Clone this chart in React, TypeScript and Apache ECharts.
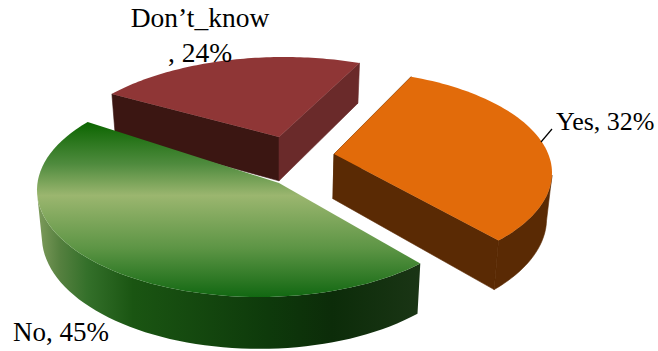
import React, { useEffect, useRef } from "react";
import * as echarts from "echarts";

// Survey answers, in percent
const categories = ["Don’t_know", "Yes", "No"];
const shares = [24, 32, 45];

type Pt = [number, number];

// Projected outline of each slice: where its tip sits, the ellipse its rim follows,
// where the rim begins and how many degrees of rim one percent takes up.
const sliceLooks = [
  {
    tip: [279, 137] as Pt,
    ellipse: [284, 162, 226, 105],
    rimStart: 220.4,
    rimPerShare: 2.88,
    top: "#8f3636",
    startWall: "#3b1612",
    endWall: "#6a2a2a",
    rimWall: "none",
    label: { x: 200, y: 35, align: "center", lineHeight: 35, size: 27.5 },
  },
  {
    tip: [334, 154] as Pt,
    ellipse: [334, 173, 218, 103],
    rimStart: 290.7,
    rimPerShare: 3.447,
    top: "#e26b0a",
    startWall: "#5a2a04",
    endWall: "#5a2a04",
    rimWall: "#5a2a04",
    label: { x: 556, y: 121, align: "left", lineHeight: 30, size: 26 },
  },
  {
    tip: [279, 183] as Pt,
    ellipse: [259, 190, 222, 107],
    rimStart: 43.4,
    rimPerShare: 3.913,
    top: {
      type: "linear", x: 0, y: 0, x2: 0, y2: 1,
      colorStops: [
        { offset: 0, color: "#0b6500" },
        { offset: 0.24, color: "#4f8b3e" },
        { offset: 0.42, color: "#9bb66f" },
        { offset: 0.72, color: "#5d9545" },
        { offset: 1, color: "#126812" },
      ],
    },
    startWall: "none",
    endWall: "none",
    rimWall: {
      type: "linear", x: 0, y: 0, x2: 1, y2: 0,
      colorStops: [
        { offset: 0, color: "#7f9c5d" },
        { offset: 0.06, color: "#55803f" },
        { offset: 0.13, color: "#34702a" },
        { offset: 0.25, color: "#1a5512" },
        { offset: 0.6, color: "#0e3a0b" },
        { offset: 0.77, color: "#0c2c09" },
        { offset: 1, color: "#1a3515" },
      ],
    },
    label: { x: 13, y: 332, align: "left", lineHeight: 30, size: 27 },
  },
];

// Underside of the pie: a top-face point pushed down, leaning slightly to the centre
const dropped = ([x, y]: Pt): Pt => [x + (280 - x) * 0.02, y + 37 + 0.05 * y];

function rimPoints(look: (typeof sliceLooks)[number], share: number): Pt[] {
  const [cx, cy, a, b] = look.ellipse;
  const sweep = share * look.rimPerShare;
  const steps = 72;
  const pts: Pt[] = [];
  for (let i = 0; i <= steps; i++) {
    const t = ((look.rimStart + (sweep * i) / steps) * Math.PI) / 180;
    pts.push([cx + a * Math.cos(t), cy + b * Math.sin(t)]);
  }
  return pts;
}

const wall = (from: Pt[], fill: unknown) => ({
  type: "polygon",
  shape: { points: [...from, ...from.map(dropped).reverse()] },
  style: {
    fill,
    // A hairline of the wall's own colour closes the seam between neighbouring walls
    stroke: typeof fill === "string" && fill !== "none" ? fill : "none",
    lineWidth: 0.6,
  },
});

function renderSlice(params: any, api: any) {
  const look = sliceLooks[params.dataIndex];
  const rim = rimPoints(look, api.value(0));
  // Only the near half of the rim shows a wall; its ends close as straight silhouette edges
  const nearRim = rim.filter(([, y]) => y >= look.ellipse[1]);
  return {
    type: "group",
    children: [
      wall([look.tip, rim[0]], look.startWall),
      wall([look.tip, rim[rim.length - 1]], look.endWall),
      wall(nearRim, look.rimWall),
      {
        type: "polygon",
        shape: { points: [look.tip, ...rim] },
        style: { fill: look.top },
      },
    ],
  };
}

// Labels go in a later series so they lie above every slice
function renderLabel(params: any, api: any) {
  const look = sliceLooks[params.dataIndex];
  const share = api.value(0);
  const name = categories[params.dataIndex];
  const text =
    params.dataIndex === 0 ? `${name}\n, ${share}%` : `${name}, ${share}%`;
  return {
    type: "text",
    style: {
      text,
      x: look.label.x,
      y: look.label.y,
      align: look.label.align,
      verticalAlign: "middle",
      lineHeight: look.label.lineHeight,
      font: `${look.label.size}px "Liberation Serif", serif`,
      fill: "#000000",
    },
  };
}

export default function App() {
  const ref = useRef<HTMLDivElement>(null);

  useEffect(() => {
    document.body.style.margin = "0";
    const chart = echarts.init(ref.current!, undefined, { renderer: "svg" });
    const data = shares.map((value, i) => ({ name: categories[i], value }));
    chart.setOption({
      animation: false,
      backgroundColor: "#ffffff",
      series: [
        {
          type: "custom",
          coordinateSystem: "none",
          renderItem: renderSlice,
          data,
          silent: true,
          z: 1,
        },
        {
          type: "custom",
          coordinateSystem: "none",
          renderItem: renderLabel,
          data,
          silent: true,
          z: 3,
        },
      ],
      graphic: [
        {
          type: "line",
          shape: { x1: 541, y1: 142, x2: 552, y2: 129 },
          style: { stroke: "#000000", lineWidth: 1.2 },
          z: 2,
        },
      ],
    });
    return () => chart.dispose();
  }, []);

  return <div ref={ref} style={{ width: 658, height: 351 }} />;
}
